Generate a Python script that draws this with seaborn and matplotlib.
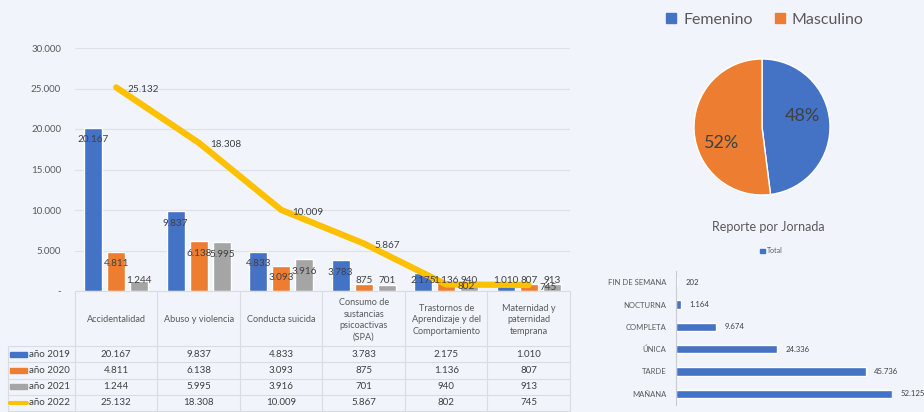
import numpy as np
import pandas as pd
import seaborn as sns
import matplotlib.pyplot as plt
from matplotlib.patches import Rectangle, Patch

# datos
categorias = ["Accidentalidad", "Abuso y violencia", "Conducta suicida",
              "Consumo de\nsustancias\npsicoactivas\n(SPA)",
              "Trastornos de\nAprendizaje y del\nComportamiento",
              "Maternidad y\npaternidad\ntemprana"]
anios = ["año 2019", "año 2020", "año 2021", "año 2022"]
v2019 = [20167, 9837, 4833, 3783, 2175, 1010]
v2020 = [4811, 6138, 3093, 875, 1136, 807]
v2021 = [1244, 5995, 3916, 701, 940, 913]
v2022 = [25132, 18308, 10009, 5867, 802, 745]

genero = ["Femenino", "Masculino"]
genero_pct = [48, 52]

jornadas = ["FIN DE SEMANA", "NOCTURNA", "COMPLETA", "ÚNICA", "TARDE", "MAÑANA"]
totales = [202, 1164, 9674, 24336, 45736, 52125]

azul, naranja, gris, amarillo = "#4472C4", "#ED7D31", "#A5A5A5", "#FFC000"
fondo = "#F1F5FB"
texto = "#595959"
oscuro = "#404040"
linea_tabla = "#D9DCE3"


def fmt(v):
    return f"{v:,}".replace(",", ".")


W, H = 924, 412


def box(x0, y0, x1, y1):
    return [x0 / W, 1 - y1 / H, (x1 - x0) / W, (y1 - y0) / H]


sns.set_theme(style="white")
plt.rcParams["font.family"] = ["Lato", "DejaVu Sans"]

fig = plt.figure(figsize=(W / 100, H / 100), dpi=100, facecolor=fondo)

# ---------- grafico principal ----------
ax = fig.add_axes(box(75, 48, 570, 291))
ax.set_facecolor(fondo)
df = pd.DataFrame({
    "cat": categorias * 3,
    "anio": [anios[0]] * 6 + [anios[1]] * 6 + [anios[2]] * 6,
    "valor": v2019 + v2020 + v2021,
})
sns.barplot(data=df, x="cat", y="valor", hue="anio", order=categorias,
            hue_order=anios[:3], palette=[azul, naranja, gris], saturation=1,
            width=0.84, gap=0.21, legend=False, ax=ax, zorder=2)

for cont, vals in zip(ax.containers, [v2019, v2020, v2021]):
    for rect, v in zip(cont, vals):
        xc = rect.get_x() + rect.get_width() / 2
        ax.text(xc, max(v - 1450, 1300), fmt(v), ha="center", va="center",
                fontsize=7.2, color=oscuro, zorder=5)

x = np.arange(len(categorias))
sns.lineplot(x=x, y=v2022, color=amarillo, lw=4.5, ax=ax, zorder=4,
             solid_capstyle="round")
for xi, v in zip(x, v2022):
    ax.annotate(fmt(v), (xi, v), xytext=(8, -1.5), textcoords="offset points",
                ha="left", va="center", fontsize=7.2, color=oscuro, zorder=6)

ax.set_xlim(-0.5, 5.5)
ax.set_ylim(0, 30000)
ax.set_yticks(range(0, 30001, 5000))
ax.set_yticklabels(["-"] + [fmt(t) for t in range(5000, 30001, 5000)])
ax.tick_params(axis="y", length=0, pad=10, labelsize=7, labelcolor=texto)
ax.set_xticks([])
ax.set_xlabel("")
ax.set_ylabel("")
ax.yaxis.grid(True, color="#DDE1E8", lw=0.8, zorder=0)
for s in ax.spines.values():
    s.set_visible(False)

# ---------- tabla de datos ----------
tax = fig.add_axes(box(75, 291, 570, 411))
tax.set_xlim(-0.5, 5.5)
tax.set_ylim(120, 0)
tax.axis("off")
x_izq = -0.5 - 67 / 82.5
filas_y = [55, 71.25, 87.5, 103.75, 120]
tax.plot([-0.5, 5.5], [0, 0], color=linea_tabla, lw=0.8, clip_on=False)
for yy in filas_y:
    tax.plot([x_izq, 5.5], [yy, yy], color=linea_tabla, lw=0.8, clip_on=False)
for xb in np.arange(-0.5, 6, 1):
    tax.plot([xb, xb], [0, 120], color=linea_tabla, lw=0.8, clip_on=False)
tax.plot([x_izq, x_izq], [55, 120], color=linea_tabla, lw=0.8, clip_on=False)

for i, c in enumerate(categorias):
    tax.text(i, 29, c, ha="center", va="center", fontsize=6.6, color=texto,
             linespacing=1.35)

series = [v2019, v2020, v2021, v2022]
colores = [azul, naranja, gris, amarillo]
for r, (nombre, vals, col) in enumerate(zip(anios, series, colores)):
    yc = (filas_y[r] + filas_y[r + 1]) / 2
    if r < 3:
        tax.add_patch(Rectangle((x_izq + 0.03, yc - 2.5), 0.2, 5, color=col,
                                clip_on=False))
    else:
        tax.plot([x_izq + 0.03, x_izq + 0.23], [yc, yc], color=col, lw=3,
                 solid_capstyle="round", clip_on=False)
    tax.text(x_izq + 0.26, yc, nombre, ha="left", va="center", fontsize=7,
             color=oscuro)
    for i, v in enumerate(vals):
        tax.text(i, yc, fmt(v), ha="center", va="center", fontsize=7,
                 color=oscuro)

# ---------- torta por genero ----------
pax = fig.add_axes(box(762 - 68, 127 - 68, 762 + 68, 127 + 68))
_, _, pcts = pax.pie(genero_pct, colors=[azul, naranja], startangle=90,
                     counterclock=False, autopct="%d%%", pctdistance=0.62,
                     wedgeprops=dict(edgecolor="white", linewidth=1),
                     textprops=dict(fontsize=13, color=oscuro))
# Excel coloca las etiquetas un poco desplazadas respecto al centro de la porcion
pcts[0].set_position((0.59, 0.16))
pcts[1].set_position((-0.59, -0.24))
pax.set_xlim(-1, 1)
pax.set_ylim(-1, 1)
pax.set_aspect("equal")
fig.legend(handles=[Patch(color=azul), Patch(color=naranja)], labels=genero,
           loc="center", bbox_to_anchor=(765 / W, 1 - 20 / H), ncol=2,
           frameon=False, fontsize=11.5, handlelength=0.6, handleheight=0.6,
           handletextpad=0.45, columnspacing=1.4, labelcolor=texto)

# ---------- barras por jornada ----------
hax = fig.add_axes(box(676, 271, 892, 405))
hax.set_facecolor(fondo)
sns.barplot(x=totales, y=jornadas, orient="h", color=azul, saturation=1,
            width=0.38, ax=hax)
hax.set_xlim(0, max(totales))
for j, v in enumerate(totales):
    hax.annotate(fmt(v), (v, j), xytext=(6, 0), textcoords="offset points",
                 ha="left", va="center", fontsize=5.6, color=oscuro)
hax.set_xticks([])
hax.tick_params(axis="y", length=0, pad=7, labelsize=5.5, labelcolor=texto)
hax.set_xlabel("")
hax.set_ylabel("")
for s in ["top", "right", "bottom"]:
    hax.spines[s].set_visible(False)
hax.spines["left"].set_color("#C8CCD4")
hax.spines["left"].set_linewidth(0.8)

fig.text(768 / W, 1 - 227 / H, "Reporte por Jornada", ha="center",
         va="center", fontsize=9, color=texto)
fig.legend(handles=[Patch(color=azul)], labels=["Total"], loc="center",
           bbox_to_anchor=(771 / W, 1 - 251 / H), frameon=False, fontsize=5,
           handlelength=0.7, handleheight=0.7, handletextpad=0.3,
           labelcolor=texto)

fig.savefig("out.png", dpi=100, facecolor=fondo)
